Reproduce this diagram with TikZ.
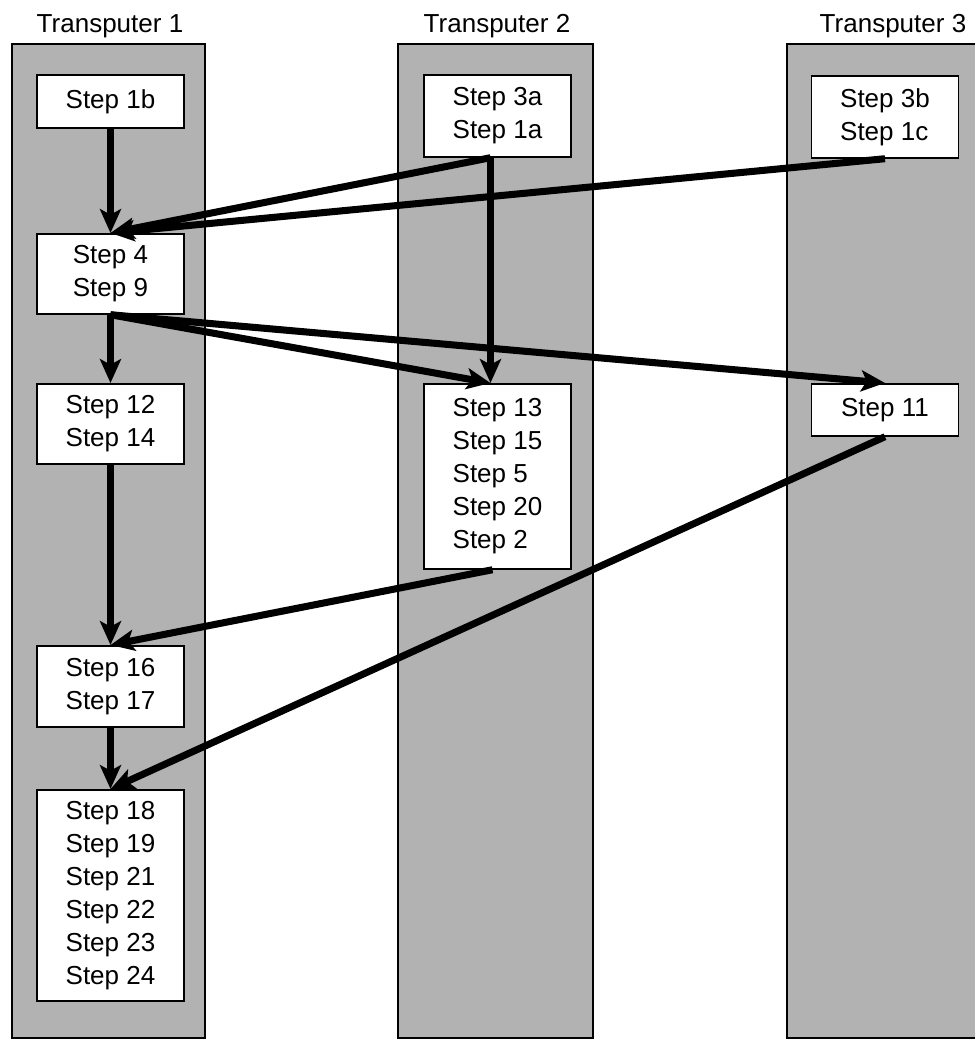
\documentclass[tikz,border=0pt]{standalone}
\usepackage{fontspec}
\setmainfont{Liberation Sans}
\usetikzlibrary{arrows.meta,positioning,calc}

\begin{document}
\begin{tikzpicture}[
    x=0.025cm, y=-0.025cm,
    lane/.style={fill=black!30},
    laneedge/.style={draw=black, line width=1.2pt},
    stepbox/.style={draw, rectangle, line width=1.2pt, fill=white, anchor=north, minimum width=3.675cm, align=left, inner sep=0pt, font=\fontsize{18.5}{23.5}\selectfont},
    edge/.style={-{Stealth[length=17pt, width=15pt, inset=4pt]}, line width=5pt, draw=black},
    title/.style={anchor=base, font=\fontsize{18.5}{22}\selectfont},
]
\useasboundingbox (0,0) rectangle (975,1042);

% Transputer lanes
\fill[lane] (12,44) rectangle (205,1038);
\draw[laneedge] (12,44) rectangle (205,1038);
\fill[lane] (398,44) rectangle (593,1038);
\draw[laneedge] (398,44) rectangle (593,1038);
\fill[lane] (787,44) rectangle (975,1038);
\draw[laneedge] (975,44) -- (787,44) -- (787,1038) -- (975,1038);

% Titles
\node[title] (t1) at (110,32) {Transputer 1};
\node[title] (t2) at (497,32) {Transputer 2};
\node[title] (t3) at (893,32) {Transputer 3};

% Transputer 1
\node[stepbox, minimum height=1.325cm] (s1b) at (110.5,74) {Step 1b};
\node[stepbox, minimum height=2.0cm] (s4) at (110.5,233) {Step 4\\Step 9};
\node[stepbox, minimum height=2.0cm] (s12) at (110.5,383) {Step 12\\Step 14};
\node[stepbox, minimum height=2.025cm] (s16) at (110.5,645) {Step 16\\Step 17};
\node[stepbox, minimum height=5.275cm] (s18) at (110.5,789) {Step 18\\Step 19\\Step 21\\Step 22\\Step 23\\Step 24};

% Transputer 2
\node[stepbox, minimum height=2.05cm] (s3a) at (497.5,74) {Step 3a\\Step 1a};
\node[stepbox, minimum height=4.625cm] (s13) at (497.5,383) {Step 13\\Step 15\\Step 5\\Step 20\\Step 2};

% Transputer 3
\node[stepbox, minimum height=2.05cm] (s3b) at (885,75) {Step 3b\\Step 1c};
\node[stepbox, minimum height=1.3cm] (s11) at (885,383) {Step 11};

% Dependencies
\draw[edge] (s1b.south) -- (s4.north);
\draw[edge] ($(s3a.south)+(-7,0)$) -- (s4.north);
\draw[edge] (s3b.south) -- (s4.north);
\draw[edge] ($(s3a.south)+(-7,0)$) -- ($(s13.north)+(-7,0)$);
\draw[edge] (s4.south) -- (s12.north);
\draw[edge] (s4.south) -- ($(s13.north)+(-7,0)$);
\draw[edge] (s4.south) -- (s11.north);
\draw[edge] (s12.south) -- (s16.north);
\draw[edge] ($(s13.south)+(-5,0)$) -- (s16.north);
\draw[edge] (s16.south) -- (s18.north);
\draw[edge] (s11.south) -- (s18.north);

\end{tikzpicture}
\end{document}
